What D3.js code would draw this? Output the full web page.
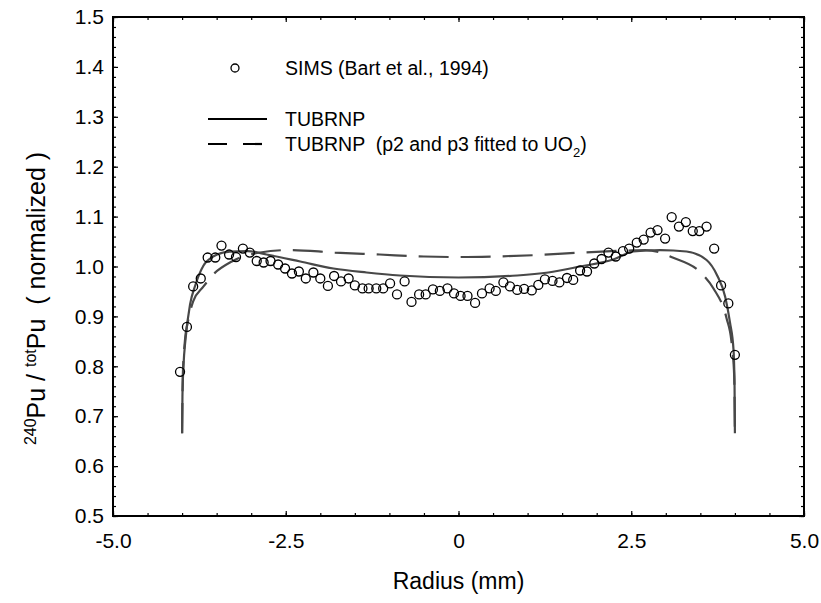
<!DOCTYPE html>
<html>
<head>
<meta charset="utf-8">
<script src="https://cdn.jsdelivr.net/npm/d3@7"></script>
<style>
  body { margin: 0; background: #fff; }
  text { font-family: "Liberation Sans", Arial, sans-serif; fill: #000; }
</style>
</head>
<body>
<svg width="821" height="603"></svg>
<script>
// SIMS measurements (Bart et al., 1994)
const simsRadius = [-4.03, -3.93, -3.84, -3.73, -3.63, -3.52, -3.43, -3.32, -3.22, -3.12,
  -3.02, -2.92, -2.82, -2.72, -2.61, -2.51, -2.41, -2.31, -2.21, -2.10,
  -2.00, -1.89, -1.80, -1.70, -1.59, -1.50, -1.39, -1.30, -1.19, -1.09,
  -0.99, -0.89, -0.78, -0.68, -0.57, -0.475, -0.37, -0.27, -0.16, -0.065,
  0.03, 0.13, 0.24, 0.34, 0.45, 0.54, 0.65, 0.745, 0.85, 0.95,
  1.06, 1.155, 1.25, 1.36, 1.46, 1.57, 1.66, 1.76, 1.86, 1.965,
  2.07, 2.17, 2.275, 2.38, 2.47, 2.58, 2.68, 2.78, 2.88, 2.99,
  3.085, 3.19, 3.29, 3.39, 3.485, 3.59, 3.70, 3.80, 3.905, 4.00];
const simsRatio = [0.789, 0.879, 0.960, 0.976, 1.018, 1.018, 1.042, 1.024, 1.019, 1.036,
  1.028, 1.011, 1.008, 1.011, 1.004, 0.996, 0.986, 0.990, 0.976, 0.988,
  0.976, 0.961, 0.981, 0.970, 0.976, 0.962, 0.956, 0.956, 0.956, 0.956,
  0.966, 0.944, 0.970, 0.929, 0.944, 0.944, 0.954, 0.951, 0.956, 0.946,
  0.941, 0.941, 0.927, 0.946, 0.956, 0.951, 0.968, 0.960, 0.953, 0.955,
  0.952, 0.963, 0.974, 0.971, 0.968, 0.977, 0.973, 0.992, 0.990, 1.006,
  1.015, 1.028, 1.020, 1.031, 1.036, 1.048, 1.054, 1.068, 1.073, 1.056,
  1.099, 1.080, 1.089, 1.071, 1.071, 1.080, 1.036, 0.962, 0.926, 0.823];

// TUBRNP
const tubRadius = [-4.00, -3.995, -3.98, -3.95, -3.885, -3.81, -3.69, -3.55, -3.31, -3.05,
  -2.78, -2.29, -1.81, -1.33, -0.85, 0, 0.85, 1.30, 1.76, 2.24,
  2.53, 2.92, 3.30, 3.59, 3.74, 3.86, 3.93, 3.98, 3.995, 4.00];
const tubRatio = [0.666, 0.74, 0.80, 0.855, 0.924, 0.962, 1.002, 1.020, 1.030, 1.031,
  1.024, 1.010, 0.996, 0.988, 0.982, 0.978, 0.982, 0.988, 1.000, 1.014,
  1.030, 1.033, 1.030, 1.013, 0.983, 0.939, 0.887, 0.833, 0.76, 0.666];

// TUBRNP (p2 and p3 fitted to UO2)
const fitRadius = [-4.00, -3.99, -3.96, -3.91, -3.84, -3.69, -3.57, -3.28, -2.87, -2.44,
  -1.79, -1.14, -0.5, 0, 0.5, 1.14, 1.79, 2.44, 2.70, 2.90,
  3.08, 3.54, 3.69, 3.88, 3.95, 3.99, 4.00];
const fitRatio = [0.666, 0.78, 0.85, 0.893, 0.930, 0.960, 0.981, 1.010, 1.028, 1.033,
  1.028, 1.024, 1.020, 1.019, 1.020, 1.023, 1.028, 1.032, 1.033, 1.029,
  1.019, 0.983, 0.956, 0.896, 0.85, 0.78, 0.666];

const xTicks = [-5, -2.5, 0, 2.5, 5];
const xTickLabels = ['-5.0', '-2.5', '0', '2.5', '5.0'];
const yTicks = [0.5, 0.6, 0.7, 0.8, 0.9, 1.0, 1.1, 1.2, 1.3, 1.4, 1.5];

const svg = d3.select('svg');
const margin = { top: 17, left: 113, right: 17, bottom: 87 };
const width = +svg.attr('width') - margin.left - margin.right;
const height = +svg.attr('height') - margin.top - margin.bottom;

const g = svg.append('g')
  .attr('transform', `translate(${margin.left},${margin.top})`);

const xScale = d3.scaleLinear().domain([-5, 5]).range([0, width]);
const yScale = d3.scaleLinear().domain([0.5, 1.5]).range([height, 0]);

const xMinor = d3.range(-5, 5.001, 0.5);
const yMinor = d3.range(0.5, 1.5001, 0.02);

// minor ticks on all four sides, pointing inward
const minor = [
  [d3.axisBottom(xScale).tickValues(xMinor), `translate(0,${height})`],
  [d3.axisTop(xScale).tickValues(xMinor), null],
  [d3.axisLeft(yScale).tickValues(yMinor), null],
  [d3.axisRight(yScale).tickValues(yMinor), `translate(${width},0)`]
];
minor.forEach(([ax, tr]) => {
  const a = g.append('g').call(ax.tickSize(-3).tickFormat(''));
  if (tr) a.attr('transform', tr);
  a.select('.domain').remove();
  a.selectAll('line').attr('stroke-width', 1.2);
});

const xAxisG = g.append('g')
  .attr('transform', `translate(0,${height})`)
  .call(d3.axisBottom(xScale).tickValues(xTicks)
    .tickFormat((d, i) => xTickLabels[i]).tickSize(-5).tickPadding(17));
const yAxisG = g.append('g')
  .call(d3.axisLeft(yScale).tickValues(yTicks)
    .tickFormat(d3.format('.1f')).tickSize(-5).tickPadding(9));
g.append('g').attr('transform', `translate(${width},0)`)
  .call(d3.axisRight(yScale).tickValues(yTicks).tickFormat('').tickSize(-5));
g.append('g')
  .call(d3.axisTop(xScale).tickValues(xTicks).tickFormat('').tickSize(-5));

g.selectAll('.domain').remove();
g.selectAll('.tick line').attr('stroke-width', 1.2);
g.selectAll('.tick text')
  .style('font-size', '21px')
  .style('font-family', '"Liberation Sans", Arial, sans-serif');
xAxisG.selectAll('.tick text').attr('dy', '0.71em');

g.append('rect')
  .attr('width', width).attr('height', height)
  .attr('fill', 'none').attr('stroke', '#000').attr('stroke-width', 2);

// curves
const line = (xs, ys) => d3.line()
  .x((d, i) => xScale(xs[i]))
  .y((d, i) => yScale(ys[i]))
  .curve(d3.curveMonotoneX)(xs);

g.append('path')
  .attr('d', line(fitRadius, fitRatio))
  .attr('fill', 'none').attr('stroke', '#484848').attr('stroke-width', 2.2)
  .attr('stroke-dasharray', '30,12');

g.append('path')
  .attr('d', line(tubRadius, tubRatio))
  .attr('fill', 'none').attr('stroke', '#484848').attr('stroke-width', 2.2);

g.selectAll('circle.sims')
  .data(simsRadius).enter()
  .append('circle')
    .attr('class', 'sims')
    .attr('cx', d => xScale(d))
    .attr('cy', (d, i) => yScale(simsRatio[i]))
    .attr('r', 4.5)
    .attr('fill', 'none').attr('stroke', '#000').attr('stroke-width', 1.3);

// legend
const legend = svg.append('g').style('font-size', '19.5px');
legend.append('circle').attr('cx', 235).attr('cy', 68).attr('r', 4)
  .attr('fill', 'none').attr('stroke', '#000').attr('stroke-width', 1.3);
legend.append('text').attr('x', 285).attr('y', 75).text('SIMS (Bart et al., 1994)');
legend.append('line').attr('x1', 208).attr('x2', 267).attr('y1', 119).attr('y2', 119)
  .attr('stroke', '#000').attr('stroke-width', 2.2);
legend.append('text').attr('x', 285).attr('y', 126).text('TUBRNP');
legend.append('line').attr('x1', 208).attr('x2', 267).attr('y1', 144).attr('y2', 144)
  .attr('stroke', '#000').attr('stroke-width', 2.2).attr('stroke-dasharray', '19,16');
const t2 = legend.append('text').attr('x', 285).attr('y', 151).attr('xml:space', 'preserve');
t2.append('tspan').text('TUBRNP  (p2 and p3 fitted to UO');
t2.append('tspan').attr('dy', 6).style('font-size', '13px').text('2');
t2.append('tspan').attr('dy', -6).text(')');

// axis titles
svg.append('text')
  .attr('x', margin.left + width / 2).attr('y', 589)
  .attr('text-anchor', 'middle').style('font-size', '23px')
  .text('Radius (mm)');

const yt = svg.append('text')
  .attr('transform', `translate(45,${margin.top + height / 2 + 32}) rotate(-90)`)
  .attr('text-anchor', 'middle').style('font-size', '25px')
  .attr('xml:space', 'preserve');
yt.append('tspan').attr('dy', -9).style('font-size', '16px').text('240');
yt.append('tspan').attr('dy', 9).text('Pu / ');
yt.append('tspan').attr('dy', -9).style('font-size', '16px').text('tot');
yt.append('tspan').attr('dy', 9).text('Pu  ( normalized )');
</script>
</body>
</html>
